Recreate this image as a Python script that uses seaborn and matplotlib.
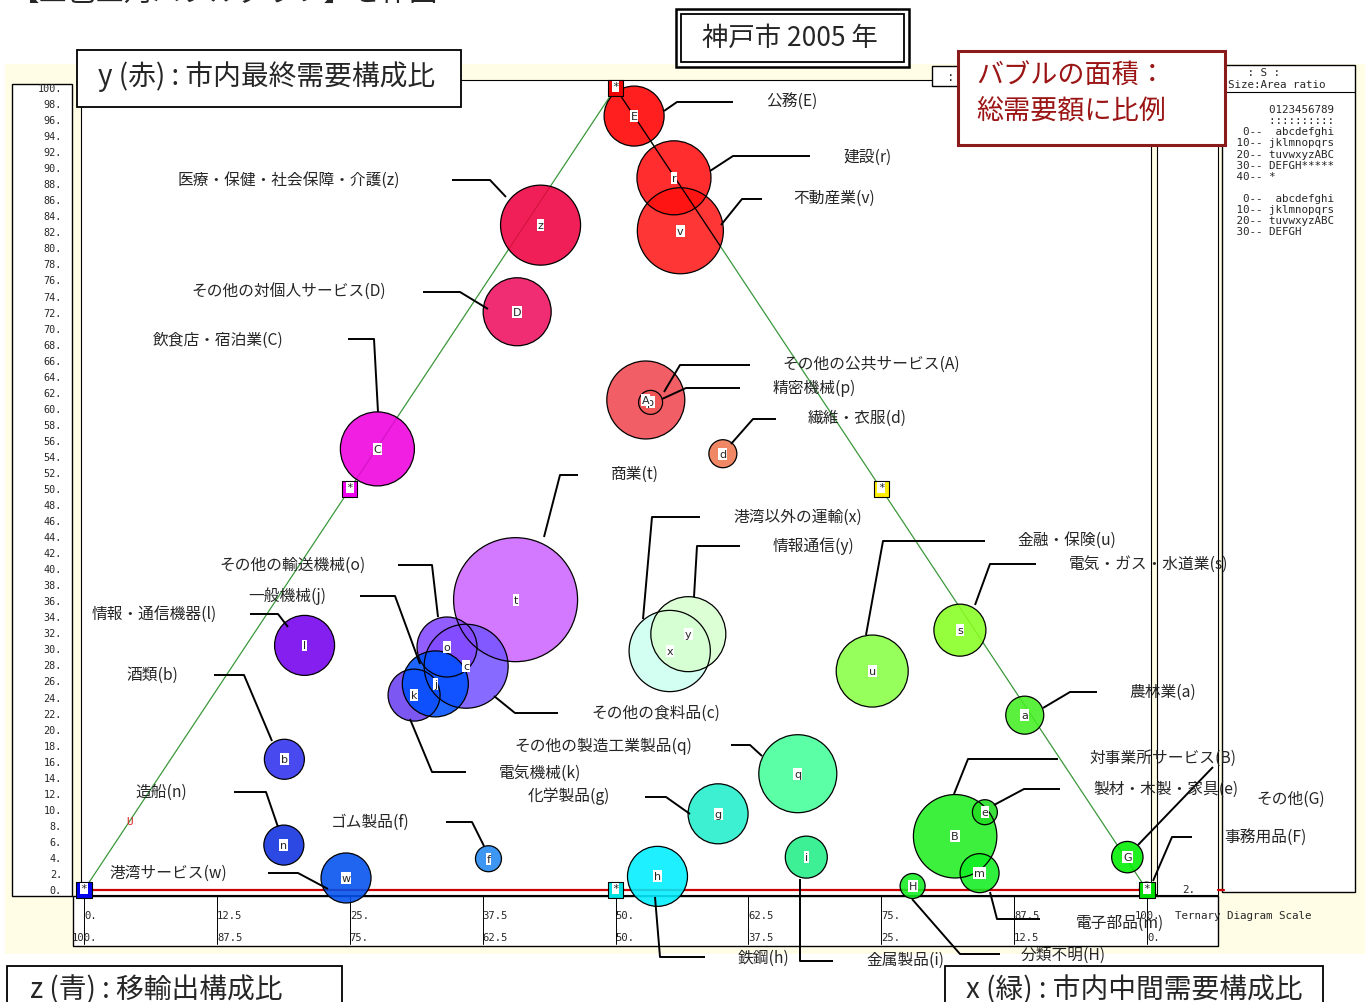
import numpy as np
import pandas as pd
import matplotlib
matplotlib.use("Agg")
import matplotlib.pyplot as plt
import matplotlib.transforms as mtransforms
from matplotlib.patches import Rectangle
import seaborn as sns

# ---------------- data ----------------
codes = ['a', 'b', 'c', 'd', 'e', 'f', 'g', 'h', 'i', 'j', 'k', 'l', 'm', 'n', 'o', 'p', 'q',
         'r', 's', 't', 'u', 'v', 'w', 'x', 'y', 'z', 'A', 'B', 'C', 'D', 'E', 'F', 'G', 'H']
names = ['農林業', '酒類', 'その他の食料品', '繊維・衣服', '製材・木製・家具', 'ゴム製品', '化学製品',
         '鉄鋼', '金属製品', '一般機械', '電気機械', '情報・通信機器', '電子部品', '造船',
         'その他の輸送機械', '精密機械', 'その他の製造工業製品', '建設', '電気・ガス・水道業', '商業',
         '金融・保険', '不動産業', '港湾サービス', '港湾以外の運輸', '情報通信',
         '医療・保健・社会保障・介護', 'その他の公共サービス', '対事業所サービス', '飲食店・宿泊業',
         'その他の対個人サービス', '公務', '事務用品', 'その他', '分類不明']
# x (green): 市内中間需要構成比 (%)
green = [77.6, 10.7, 22.0, 32.9, 79.9, 36.1, 54.9, 53.1, 65.9, 20.2, 18.9, 5.5, 83.2, 16.0,
         19.0, 22.9, 59.9, 11.1, 66.2, 22.5, 60.5, 15.0, 23.9, 40.2, 40.9, 1.5, 22.3, 78.6,
         0.1, 4.7, 3.5, 99.9, 96.1, 77.7]
# y (red): 市内最終需要構成比 (%)
red = [21.8, 16.3, 27.9, 54.4, 9.7, 3.9, 9.5, 1.7, 4.1, 25.7, 24.3, 30.5, 2.1, 5.6,
       30.3, 60.8, 14.5, 88.8, 32.4, 36.2, 27.3, 82.2, 1.5, 29.8, 31.9, 82.9, 61.1, 6.7,
       55.0, 72.1, 96.5, 0.1, 4.1, 0.5]
# 総需要額（相対値）: bubble area
demand = [361, 400, 1764, 196, 156, 169, 900, 900, 441, 1089, 676, 900, 380, 400,
          900, 144, 1521, 1370, 676, 3844, 1296, 1850, 625, 1650, 1406, 1600, 1520, 1740,
          1370, 1156, 900, 49, 246, 156]

# ternary reference points (green, red)
ref_green = [0, 50, 100, 0, 50, 0]
ref_red = [0, 0, 0, 50, 50, 100]

bottom_row1 = ['0.', '12.5', '25.', '37.5', '50.', '62.5', '75.', '87.5', '100.']
bottom_row2 = ['100.', '87.5', '75.', '62.5', '50.', '37.5', '25.', '12.5', '0.']
left_ticks = list(range(0, 101, 2))

df = pd.DataFrame({'code': codes, 'name': names, 'green': green, 'red': red, 'demand': demand})
df['blue'] = 100 - df['green'] - df['red']
df['X'] = df['green'] + df['red'] / 2.0
df['Y'] = df['red']

# ---------------- styles ----------------
fill_pal = {
    'E': '#ff0000', 'r': '#ff1010', 'v': '#ff1a1a', 'z': '#ee0040', 'D': '#ee1060',
    'C': '#ee00dd', 'A': '#f04850', 'p': '#f05555', 'd': '#f07850', 't': '#cc66ff',
    'o': '#8448ff', 'c': '#7755ff', 'j': '#0050ff', 'k': '#6a40f0', 'l': '#7300ee',
    'b': '#3030ee', 'n': '#1030e0', 'w': '#0050ee', 'f': '#2288f0', 'h': '#00eeff',
    'x': '#ccfff0', 'y': '#d8ffd0', 'u': '#88ff44', 's': '#88ff22', 'q': '#44ff99',
    'g': '#22eecc', 'i': '#22ee88', 'a': '#44ee22', 'B': '#22ee22', 'e': '#22dd22',
    'm': '#11ee22', 'H': '#11ee22', 'G': '#00ee00', 'F': '#00ee00'}
ref_colors = ['#0000ee', '#00e0e0', '#00dd00', '#ee00ee', '#ffee00', '#ee0000']

# label layout in pixel coordinates: text left/center-y and leader path
label_layout = {
    'E': (766, 101, [(733, 103), (677, 103), (664, 112)]),
    'r': (843, 157, [(810, 157), (733, 157), (710, 172)]),
    'v': (793, 198, [(762, 200), (742, 200), (721, 226)]),
    'z': (178, 180, [(452, 181), (490, 181), (506, 198)]),
    'D': (191, 292, [(423, 293), (460, 293), (488, 310)]),
    'C': (153, 340, [(348, 340), (374, 340), (378, 413)]),
    'A': (782, 364, [(750, 366), (680, 366), (664, 393)]),
    'p': (773, 388, [(740, 389), (686, 389), (662, 400)]),
    'd': (808, 418, [(776, 420), (753, 420), (731, 445)]),
    't': (611, 474, [(578, 476), (560, 476), (544, 538)]),
    'x': (733, 517, [(700, 518), (652, 518), (643, 620)]),
    'y': (773, 546, [(740, 547), (697, 547), (694, 598)]),
    'u': (1017, 540, [(985, 542), (883, 542), (866, 636)]),
    's': (1069, 564, [(1036, 565), (990, 565), (975, 606)]),
    'a': (1129, 692, [(1097, 693), (1070, 693), (1043, 709)]),
    'B': (1090, 758, [(1058, 760), (968, 760), (954, 795)]),
    'e': (1093, 789, [(1060, 790), (1024, 790), (994, 806)]),
    'G': (1256, 799, [(1213, 768), (1138, 846)]),
    'F': (1224, 837, [(1192, 838), (1172, 838), (1153, 882)]),
    'm': (1076, 923, [(990, 893), (997, 920), (1040, 920)]),
    'H': (1021, 955, [(912, 900), (960, 955), (1000, 955)]),
    'i': (866, 960, [(800, 880), (800, 962), (833, 962)]),
    'h': (738, 958, [(655, 898), (660, 958), (705, 958)]),
    'g': (528, 796, [(645, 798), (666, 798), (690, 815)]),
    'k': (499, 773, [(466, 773), (432, 773), (410, 720)]),
    'q': (514, 746, [(731, 746), (750, 746), (762, 757)]),
    'c': (591, 713, [(558, 714), (515, 714), (494, 697)]),
    'o': (219, 565, [(398, 566), (432, 566), (438, 618)]),
    'j': (248, 596, [(360, 597), (395, 597), (420, 665)]),
    'l': (92, 614, [(250, 615), (278, 615), (288, 628)]),
    'b': (126, 675, [(214, 676), (244, 676), (272, 742)]),
    'n': (135, 792, [(234, 793), (266, 793), (278, 828)]),
    'f': (331, 822, [(446, 823), (472, 823), (484, 847)]),
    'w': (109, 873, [(268, 874), (298, 874), (328, 890)]),
}

sns.set_style("white")
plt.rcParams['font.family'] = ['Noto Sans CJK JP', 'DejaVu Sans']
MONO = ['DejaVu Sans Mono']

W, H = 1370, 1003
fig = plt.figure(figsize=(W / 100, H / 100), dpi=100)
ax = fig.add_axes([0, 0, 1, 1], zorder=1)
lay = fig.add_axes([0, 0, 1, 1], zorder=2)
for a_ in (ax, lay):
    a_.set_axis_off()
lay.set_xlim(0, W)
lay.set_ylim(H, 0)
# data scale: X 0..100 -> px 84..1147, Y 0..100 -> px 891..89
sx, sy = 10.63, 8.02
ax.set_xlim(-84 / sx, (W - 84) / sx)
ax.set_ylim((891 - H) / sy, 891 / sy)
P = lay.transData
xdata_ypix = mtransforms.blended_transform_factory(ax.transData, P)
xpix_ydata = mtransforms.blended_transform_factory(P, ax.transData)


def rect(x0, y0, x1, y1, fc='white', ec='black', lw=1.0, z=0.5, target=ax):
    target.add_patch(Rectangle((x0, y0), x1 - x0, y1 - y0, facecolor=fc, edgecolor=ec,
                               linewidth=lw, transform=P, zorder=z))


# ---------------- background panels ----------------
rect(5, 65, 1365, 955, fc='#fffde6', ec='none', z=0.1)
rect(12, 85, 72, 897, lw=1.0, z=0.2)
rect(81, 81, 1218, 896, lw=0.8, z=0.2)
rect(1151, 86, 1157, 895, fc='#fffde6', lw=0.8, z=0.3)
rect(73, 897, 1218, 947, lw=1.0, z=0.2)
rect(1222, 66, 1355, 893, lw=1.0, z=0.2)
ax.plot([1222, 1355], [93, 93], color='black', lw=0.8, transform=P, zorder=0.4)

# left scale labels
for v in left_ticks:
    ax.text(62, v, f"{v}.", transform=xpix_ydata, ha='right', va='center',
            fontsize=7.3, family=MONO, zorder=0.5)

# bottom scale ticks and labels
for i, (l1, l2) in enumerate(zip(bottom_row1, bottom_row2)):
    xv = i * 12.5
    ax.plot([xv, xv], [897, 945], color='black', lw=0.7, transform=xdata_ypix, zorder=0.5)
    ax.text(xv, 916, l1, transform=xdata_ypix, ha='center' if xv == 100 else 'left',
            va='center', fontsize=7.6, family=MONO, zorder=0.6)
    ax.text(xv, 938, l2, transform=xdata_ypix, ha='center' if xv == 0 else 'left',
            va='center', fontsize=7.6, family=MONO, zorder=0.6)
ax.text(1175, 916, 'Ternary Diagram Scale', transform=P, ha='left', va='center',
        fontsize=7.8, family=MONO, zorder=0.6)
ax.text(1182, 890, '2.', transform=P, ha='left', va='center', fontsize=7.8,
        family=MONO, zorder=0.6)

# ---------------- triangle ----------------
ax.plot([0, 50, 100], [0, 100, 0], color='#3a983a', lw=0.9, zorder=2)
ax.plot([0, 100], [0, 0], color='#cc0000', lw=1.6, zorder=2)
ax.plot([1218, 1224], [891, 891], color='#cc0000', lw=1.6, transform=P, zorder=2)

# ---------------- bubbles ----------------
order = ['t', 'v', 'B', 'c', 'z', 'x', 'q', 'A', 'y', 'r', 'C', 'u', 'D', 'o', 'k', 'j',
         'E', 'l', 'h', 'g', 'w', 's', 'i', 'b', 'n', 'a', 'm', 'G', 'd', 'f', 'e', 'H',
         'p', 'F']
dd = df.set_index('code').loc[order].reset_index()
dmax = df['demand'].max()
smax = (2 * 0.72) ** 2 * dmax  # area in pt^2 for radius sqrt(demand) px
sns.scatterplot(data=dd, x='X', y='Y', hue='code', palette=fill_pal, size='demand',
                sizes=(0, smax), size_norm=(0, dmax), linewidth=0, alpha=0.88,
                legend=False, ax=ax, zorder=3)
sns.scatterplot(data=dd, x='X', y='Y', size='demand', sizes=(0, smax),
                size_norm=(0, dmax), facecolor='none', edgecolor='black', linewidth=0.9,
                legend=False, ax=ax, zorder=4)
ax.plot([50, 100 - 80.3 / 2], [100, 80.3], color='black', lw=0.9, zorder=4.5)

for _, row in dd.iterrows():
    ax.text(row['X'], row['Y'], row['code'], ha='center', va='center', fontsize=8,
            family=['DejaVu Sans'], zorder=5.9 if row['code'] == 'p' else 6,
            bbox=dict(boxstyle='square,pad=0.08', fc='white', ec='none'))

# reference markers (ternary corners / edge midpoints)
refdf = pd.DataFrame({'X': np.array(ref_green) + np.array(ref_red) / 2, 'Y': ref_red,
                      'k': list(range(len(ref_red)))})
sns.scatterplot(data=refdf, x='X', y='Y', hue='k', palette=ref_colors, marker='s', s=120,
                edgecolor='black', linewidth=0.8, legend=False, ax=ax, zorder=7)
for _, row in refdf.iterrows():
    ax.text(row['X'], row['Y'] + 0.2, '*', ha='center', va='center', fontsize=8,
            family=MONO, zorder=8,
            bbox=dict(boxstyle='square,pad=0.05', fc='white', ec='none'))
ax.text(130, 822, 'U', transform=P, ha='center', va='center', color='#dd2222',
        fontsize=8, family=MONO, zorder=5)

# ---------------- labels & leaders ----------------
name_of = dict(zip(codes, names))
for c, (tx, ty, path) in label_layout.items():
    xs, ys = zip(*path)
    lay.plot(xs, ys, color='black', lw=1.4, zorder=5, solid_capstyle='butt')
    lay.text(tx, ty, f"{name_of[c]}({c})", ha='left', va='center', fontsize=11.3, zorder=6)

# ---------------- legend panel ----------------
legend_lines = [(73, '   : S :'), (85, 'Size:Area ratio'),
                (110, '      0123456789'), (121, '      ::::::::::'),
                (132, '  0--  abcdefghi'), (143, ' 10-- jklmnopqrs'),
                (155, ' 20-- tuvwxyzABC'), (166, ' 30-- DEFGH*****'),
                (177, ' 40-- *'),
                (199, '  0--  abcdefghi'), (210, ' 10-- jklmnopqrs'),
                (221, ' 20-- tuvwxyzABC'), (232, ' 30-- DEFGH')]
for yy, s in legend_lines:
    xx = 1228 if s.startswith('Size') or s.startswith('   :') else 1230
    lay.text(xx, yy, s, ha='left', va='center', fontsize=7.8, family=MONO, zorder=3)

# ---------------- title boxes ----------------
rect(932, 67, 962, 87, lw=1.0, z=2, target=lay)
lay.text(951, 77, ':', ha='center', va='center', fontsize=9, family=MONO, zorder=3)

rect(77, 51, 461, 108, lw=1.3, z=4, target=lay)
lay.text(98, 77, 'y (赤) : 市内最終需要構成比', ha='left', va='center', fontsize=20, zorder=5)

rect(676, 10, 909, 68, lw=1.8, z=4, target=lay)
rect(681, 15, 904, 63, lw=1.3, z=4, target=lay)
lay.text(790, 38, '神戸市 2005 年', ha='center', va='center', fontsize=19, zorder=5)

rect(958, 52, 1225, 146, ec='#8b1a1a', lw=2.2, z=4, target=lay)
lay.text(976, 75, 'バブルの面積：', ha='left', va='center', fontsize=19.5,
         color='#9b1515', zorder=5)
lay.text(976, 111, '総需要額に比例', ha='left', va='center', fontsize=19.5,
         color='#9b1515', zorder=5)

rect(7, 967, 342, 1012, lw=1.3, z=4, target=lay)
lay.text(30, 990, 'z (青) : 移輸出構成比', ha='left', va='center', fontsize=20, zorder=5)

rect(945, 967, 1323, 1012, lw=1.3, z=4, target=lay)
lay.text(966, 990, 'x (緑) : 市内中間需要構成比', ha='left', va='center', fontsize=20, zorder=5)

lay.text(10, -7, '【三色三角バブルグラフ】を作図', ha='left', va='center', fontsize=20.5,
         zorder=5)

fig.savefig('out.png', dpi=100)
